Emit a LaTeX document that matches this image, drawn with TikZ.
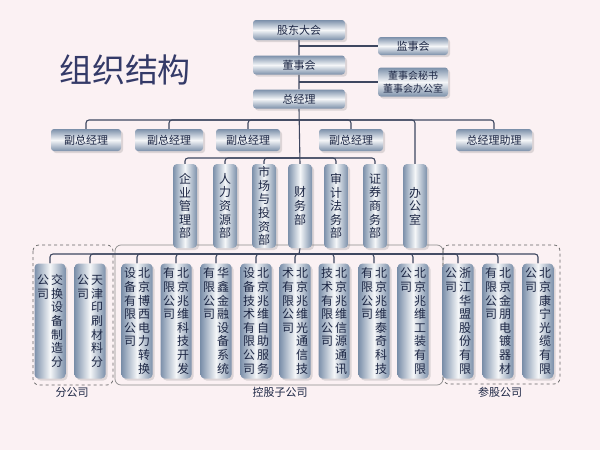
\documentclass[tikz,border=0pt]{standalone}
\usepackage{fontspec}
\setmainfont{Noto Sans CJK SC}
\usetikzlibrary{shadows}
\XeTeXlinebreaklocale "zh"
\pgfdeclarelayer{bg}\pgfsetlayers{bg,main}
\definecolor{bgc}{HTML}{FBF1F3}
\definecolor{bx}{HTML}{7C90AA}
\definecolor{ink}{HTML}{1C2644}
\definecolor{ttl}{HTML}{343A68}
\newcommand\vcol[1]{\vtop{\baselineskip=13.6pt\lineskiplimit=-20pt\edef\vctmp{#1}\expandafter\vcolA\vctmp\relax}}
\def\vcolA#1{\ifx#1\relax\else\hbox to 14pt{\hss#1\hss}\expandafter\vcolA\fi}
\tikzset{
 hbox/.style={rounded corners=3pt,top color=bx,bottom color=bx,middle color=white!92!bx,
   drop shadow={opacity=0.25,shadow xshift=2pt,shadow yshift=-2pt},text=ink,font=\fontsize{11}{12}\selectfont,inner sep=0pt},
 vbox/.style={rounded corners=4pt,left color=bx,right color=bx,middle color=white!92!bx,
   drop shadow={opacity=0.25,shadow xshift=2pt,shadow yshift=-2pt},text=ink,font=\fontsize{12}{13}\selectfont,inner sep=0pt},
 dept/.style={vbox,minimum width=24pt,minimum height=84pt},
 comp/.style={vbox,minimum width=31pt,minimum height=115pt},
 conn/.style={draw=ink!85,line width=1.1pt,rounded corners=3pt},
 grp/.style={draw=black!60,line width=0.7pt,rounded corners=6pt},
 glab/.style={text=ink,font=\fontsize{11}{12}\selectfont}
}
\begin{document}
\begin{tikzpicture}[x=1pt,y=-1pt]
\useasboundingbox (0,0) rectangle (600,450);
\node[text=ttl,font=\fontsize{33}{36}\selectfont] (title) at (125,70) {组织结构};
\node[hbox,minimum width=92pt,minimum height=20pt] (gd) at (299,30) {股东大会};
\node[hbox,minimum width=70pt,minimum height=18pt] (js) at (413,46) {监事会};
\node[hbox,minimum width=92pt,minimum height=19pt] (dsh) at (299,65) {董事会};
\node[hbox,minimum width=70pt,minimum height=29pt,align=center,font=\fontsize{10}{13}\selectfont] (ms) at (413,82) {董事会秘书\\董事会办公室};
\node[hbox,minimum width=92pt,minimum height=19pt] (zjl) at (299,99) {总经理};
\node[hbox,minimum width=70pt,minimum height=22pt] (f1) at (86,140) {副总经理};
\node[hbox,minimum width=68pt,minimum height=22pt] (f2) at (169,140) {副总经理};
\node[hbox,minimum width=64pt,minimum height=22pt] (f3) at (248,140) {副总经理};
\node[hbox,minimum width=64pt,minimum height=22pt] (f4) at (351,140) {副总经理};
\node[hbox,minimum width=76pt,minimum height=22pt] (zl) at (494,140) {总经理助理};
\node[dept] (d1) at (185,206) {\vcol{企业管理部}};
\node[dept] (d2) at (225,206) {\vcol{人力资源部}};
\node[dept] (d3) at (264,206) {\vcol{市场与投资部}};
\node[dept] (d4) at (300,206) {\vcol{财务部}};
\node[dept] (d5) at (336,206) {\vcol{审计法务部}};
\node[dept] (d6) at (375,206) {\vcol{证券商务部}};
\node[dept] (d7) at (415,206) {\vcol{办公室}};
\foreach \n/\x/\a/\b in {c1/50/公司/交换设备制造分, c2/90/公司/天津印刷材料分,
 c3/137/设备有限公司/北京博西电力转换, c4/176/有限公司/北京兆维科技开发,
 c5/216/有限公司/华鑫金融设备系统, c6/256/设备技术有限公司/北京兆维自助服务,
 c7/295/术有限公司/北京兆维光通信技, c8/334/技术有限公司/北京兆维信源通讯,
 c9/374/有限公司/北京兆维泰奇科技, c10/413/公司/北京兆维工装有限,
 c11/458/公司/浙江华盟股份有限, c12/498/有限公司/北京金朋电镀器材,
 c13/538/公司/北京康宁光缆有限}
 {\node[comp] (\n) at (\x,321) {\vcol{\a}\vcol{\b}};}
\node[glab] (l1) at (72,392) {分公司};
\node[glab] (l2) at (280,392) {控股子公司};
\node[glab] (l3) at (500,392) {参股公司};
\begin{pgfonlayer}{bg}
\fill[bgc] (0,0) rectangle (600,450);
\draw[grp,dashed] (33,245) rectangle (113,385);
\draw[grp,draw=black!45] (115,245) rectangle (443,385);
\draw[grp,dashed] (443,245) rectangle (560,384);
\coordinate (b1) at (299,120);
\coordinate (b2) at (299,158);
\coordinate (b3) at (299,254);
\draw[conn] (gd.south) -- (dsh.north) (dsh.south) -- (zjl.north) (zjl.south) -- (d4.north) (d4.south) -- (b3);
\draw[conn] (gd.south |- js.west) -- (js.west);
\draw[conn] (dsh.south |- ms.west) -- (ms.west);
\foreach \t in {f1,f2,f3,f4,zl,d7} \draw[conn] (b1) -| (\t.north);
\foreach \t in {d1,d2,d3,d5,d6} \draw[conn] (b2) -| (\t.north);
\foreach \t in {c1,c2,c3,c4,c5,c6,c7,c8,c9,c10,c11,c12,c13} \draw[conn] (b3) -| (\t.north);
\end{pgfonlayer}
\end{tikzpicture}
\end{document}
